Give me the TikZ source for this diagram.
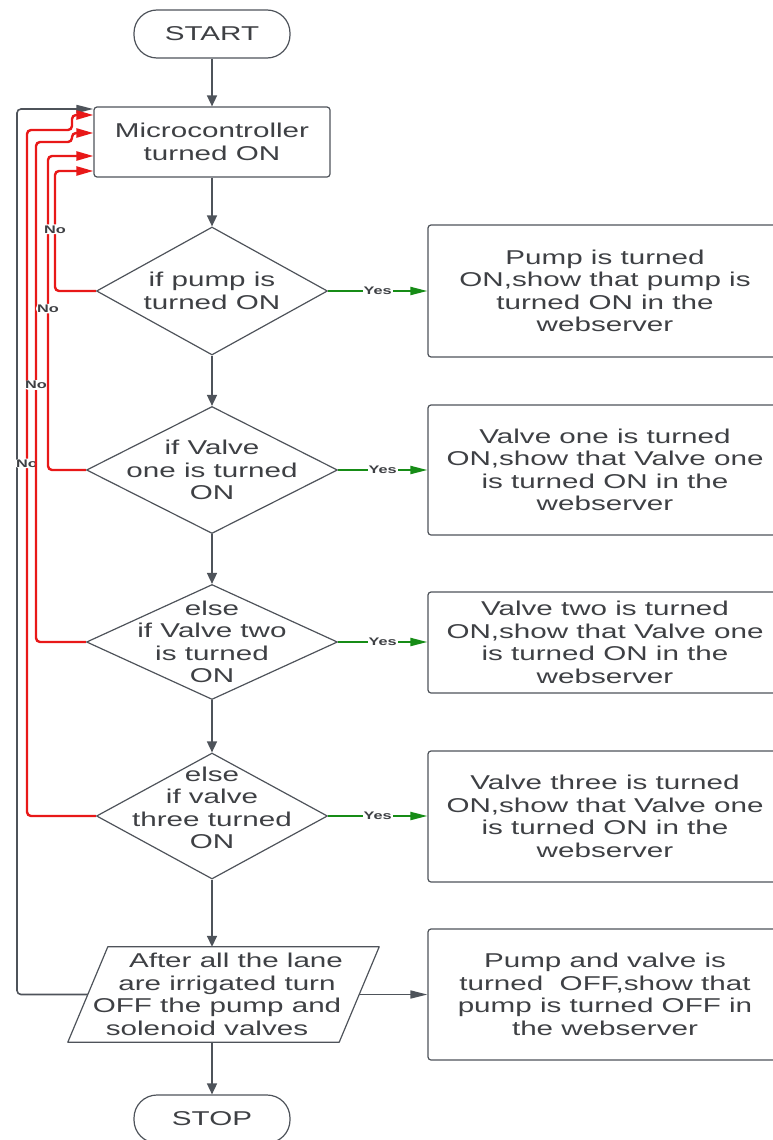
\documentclass[tikz,border=0pt]{standalone}
\usepackage{fontspec}
\setmainfont{Liberation Sans}[FakeStretch=1.48]
\usetikzlibrary{shapes.geometric,arrows.meta}
\definecolor{linegray}{RGB}{78,83,90}
\definecolor{textgray}{RGB}{62,64,68}
\definecolor{nored}{RGB}{232,24,24}
\definecolor{yesgreen}{RGB}{22,140,22}
\newcommand{\lineshift}[2]{\kern#1#2\kern-#1}

\begin{document}
\begin{tikzpicture}[x=1pt,y=-1pt,
	every node/.style={text=textgray, font=\fontsize{20}{22.5}\selectfont, align=center},
	terminal/.style={draw=linegray, line width=1.2pt, rectangle, rounded corners=23pt, minimum width=156pt, minimum height=48pt},
	process/.style={draw=linegray, line width=1.2pt, rectangle, rounded corners=3pt},
	decision/.style={draw=linegray, line width=1.2pt, diamond, inner sep=0pt},
	inout/.style={rectangle, inner sep=1pt, minimum width=271pt, minimum height=95pt},
	shapeline/.style={draw=linegray, line width=1.2pt, line join=round},
	flow/.style={draw=linegray, line width=1.6pt, -{Triangle[length=11pt,width=10pt]}},
	flowh/.style={draw=linegray, line width=1.6pt, rounded corners=4pt, -{Triangle[length=17pt,width=8pt]}},
	noline/.style={draw=nored, line width=2.4pt, rounded corners=4pt, -{Triangle[length=17pt,width=9pt]}},
	yesline/.style={draw=yesgreen, line width=2pt, -{Triangle[length=17pt,width=8pt]}},
	nolabel/.style={fill=white, inner sep=1pt, font=\fontsize{11}{12}\selectfont\bfseries},
	yeslabel/.style={fill=white, inner sep=1pt, font=\fontsize{11}{12}\selectfont\bfseries}]
	\useasboundingbox (0,0) rectangle (772,1140);

	% left column
	\node[terminal] (start) at (212,34) {START};
	\node[process, minimum width=236pt, minimum height=70pt] (micro) at (212,142) {Microcontroller\\turned ON};
	\node[decision, minimum width=231pt, minimum height=128pt, label={center:{if pump is\\turned ON}}] (d1) at (212,291) {};
	\node[decision, minimum width=251pt, minimum height=127pt, label={center:{if Valve\\one is turned\\ON}}] (d2) at (212,470) {};
	\node[decision, minimum width=251pt, minimum height=115pt, label={center:{else\\if Valve two\\is turned\\ON}}] (d3) at (212,642) {};
	\node[decision, minimum width=231pt, minimum height=126pt, label={[yshift=8pt]center:{else\\if valve\\three turned\\ON}}] (d4) at (212,816) {};
	\node[inout] (para) at (223.5,994.5) {\lineshift{12.5pt}{After all the lane}\\\lineshift{3.5pt}{are irrigated turn}\\\lineshift{-6.5pt}{OFF the pump and}\\\lineshift{-16.5pt}{solenoid valves}};
	\draw[shapeline] ([xshift=20pt]para.north west) -- ([xshift=20pt]para.north east) -- ([xshift=-20pt]para.south east) -- ([xshift=-20pt]para.south west) -- cycle;
	\node[terminal] (stop) at (212,1119) {STOP};

	% right column
	\node[process, minimum width=354pt, minimum height=132pt] (r1) at (605,291) {Pump is turned\\ON,show that pump is\\turned ON in the\\webserver};
	\node[process, minimum width=354pt, minimum height=130pt] (r2) at (605,470) {Valve one is turned\\ON,show that Valve one\\is turned ON in the\\webserver};
	\node[process, minimum width=354pt, minimum height=101pt] (r3) at (605,642.5) {Valve two is turned\\ON,show that Valve one\\is turned ON in the\\webserver};
	\node[process, minimum width=354pt, minimum height=131pt] (r4) at (605,816.5) {Valve three is turned\\ON,show that Valve one\\is turned ON in the\\webserver};
	\node[process, minimum width=354pt, minimum height=131pt] (r5) at (605,994.5) {Pump and valve is\\turned\ \ OFF,show that\\pump is turned OFF in\\the webserver};

	% main flow
	\draw[flow] (start) -- (micro);
	\draw[flow] (micro) -- (d1);
	\draw[flow] (d1) -- (d2);
	\draw[flow] (d2) -- (d3);
	\draw[flow] (d3) -- (d4);
	\draw[flow] (d4.south) -- (d4.south |- para.north);
	\draw[flow] (stop.north |- para.south) -- (stop);
	\draw[flowh] (para.east) -- (para.east -| r5.west);

	% yes branches
	\draw[yesline] (d1.east) -- node[yeslabel] {Yes} (d1.east -| r1.west);
	\draw[yesline] (d2.east) -- node[yeslabel] {Yes} (d2.east -| r2.west);
	\draw[yesline] (d3.east) -- node[yeslabel] {Yes} (d3.east -| r3.west);
	\draw[yesline] (d4.east) -- node[yeslabel] {Yes} (d4.east -| r4.west);

	% loops back
	\draw[flowh] (para.west) -| (17,109) -- (micro.west |- 0,109);
	\draw[noline] (d4.west) -| node[nolabel, pos=0.757] {No} (27,130) -| (72,115) -- (micro.west |- 0,115);
	\draw[noline] (d3.west) -| node[nolabel, pos=0.757] {No} (36,142) -| (72,133) -- (micro.west |- 0,133);
	\draw[noline] (d2.west) -| node[nolabel, pos=0.757] {No} (48,156) -- (micro.west |- 0,156);
	\draw[noline] (d1.west) -| node[nolabel, pos=0.757] {No} (55,171) -- (micro.west |- 0,171);
\end{tikzpicture}
\end{document}
